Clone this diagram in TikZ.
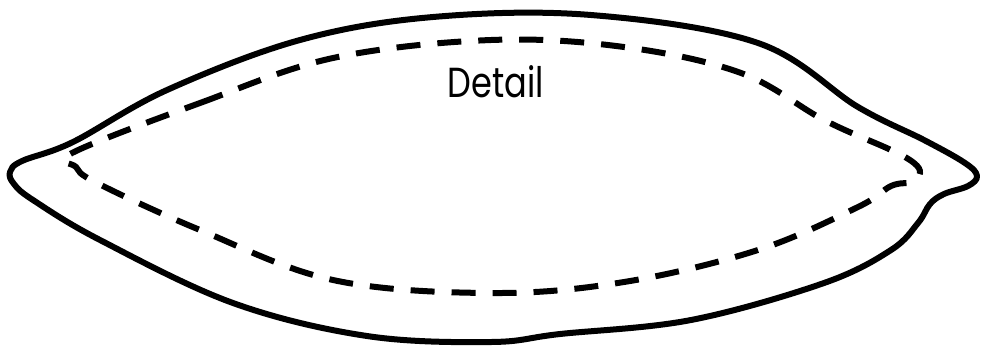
\documentclass[tikz,border=0pt]{standalone}
\usepackage{fontspec}
\setmainfont{Poppins}
\begin{document}
\begin{tikzpicture}[x=1pt,y=-1pt,
  outline/.style={line width=6pt,line join=round,line cap=round},
  seam/.style={line width=6pt,dash pattern=on 24pt off 17pt},
  label/.style={font=\fontsize{42}{42}\selectfont,inner sep=0pt}]
\useasboundingbox (0,0) rectangle (982,349);
\draw[outline] plot[smooth cycle,tension=0.6] coordinates {
(10,172) (22,161) (73,142) (167,90) (300,40) (433,17) (591,15) (758,43) (858,107) (924,140) (965,163) (977,176) (968,186) (944,194) (930,204) (918,223) (891,250) (824,283) (691,320) (560,334) (491,342) (367,336) (233,303) (100,240) (33,200) (14,184)};
\draw[seam] plot[smooth cycle,tension=0.6] coordinates {
(72,153) (200,103) (333,58) (491,40) (624,47) (741,73) (824,120) (891,150) (914,163) (920,173) (912,182) (891,186) (858,207) (758,250) (624,282) (491,293) (333,280) (200,230) (97,183) (76,167)};
\node[label] (title) at (496,82) {\scalebox{0.8}[1]{Detail}};
\end{tikzpicture}
\end{document}
